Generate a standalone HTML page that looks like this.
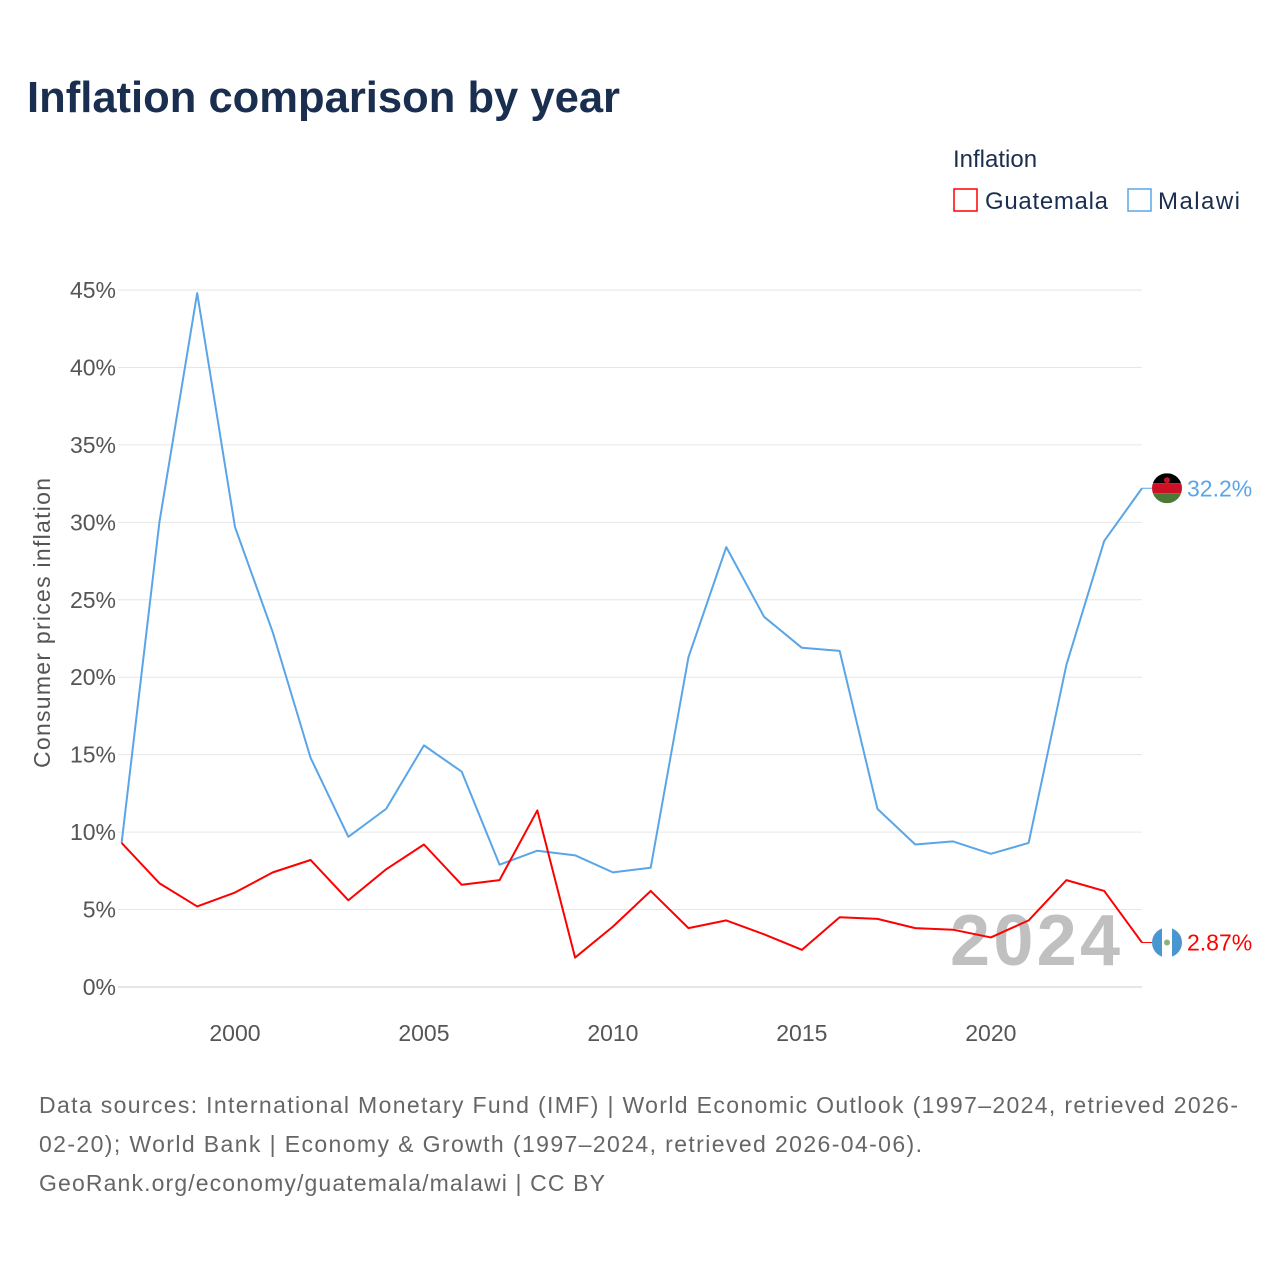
<!DOCTYPE html>
<html><head><meta charset="utf-8">
<style>
html,body{margin:0;padding:0;background:#fff;}
body{width:1280px;height:1280px;position:relative;font-family:"Liberation Sans",sans-serif;overflow:hidden;}
</style></head>
<body>
<svg id="chart" width="1280" height="1280" xmlns="http://www.w3.org/2000/svg" font-family="Liberation Sans, sans-serif">
<text x="27" y="112" font-size="44" font-weight="bold" fill="#1a2e50" textLength="593" lengthAdjust="spacingAndGlyphs">Inflation comparison by year</text>
<g>
<text x="953" y="167" font-size="24" fill="#1a2e50">Inflation</text>
<rect x="954" y="189" width="23" height="22" fill="none" stroke="#ff0000" stroke-width="1.5"/>
<text x="985" y="209" font-size="24" fill="#1a2e50" textLength="123">Guatemala</text>
<rect x="1128" y="189" width="23" height="22" fill="none" stroke="#5aa5e8" stroke-width="1.5"/>
<text x="1158" y="209" font-size="24" fill="#1a2e50" textLength="82">Malawi</text>
</g>
<g id="grid"></g>
<text x="1120" y="965" font-size="72" font-weight="bold" fill="#c0c0c0" text-anchor="end" textLength="170">2024</text>
<g id="series"></g>
<text transform="translate(50,623) rotate(-90)" font-size="23" fill="#555" text-anchor="middle" textLength="290">Consumer prices inflation</text>
<g font-size="23" fill="#666">
<text x="39" y="1113" textLength="1199">Data sources: International Monetary Fund (IMF) | World Economic Outlook (1997–2024, retrieved 2026-</text>
<text x="39" y="1152" textLength="883">02-20); World Bank | Economy &amp; Growth (1997–2024, retrieved 2026-04-06).</text>
<text x="39" y="1191" textLength="566">GeoRank.org/economy/guatemala/malawi | CC BY</text>
</g>
</svg>
<script>
const years=[1997,1998,1999,2000,2001,2002,2003,2004,2005,2006,2007,2008,2009,2010,2011,2012,2013,2014,2015,2016,2017,2018,2019,2020,2021,2022,2023,2024];
const malawi=[9.3,30.0,44.8,29.7,22.9,14.8,9.7,11.5,15.6,13.9,7.9,8.8,8.5,7.4,7.7,21.3,28.4,23.9,21.9,21.7,11.5,9.2,9.4,8.6,9.3,20.8,28.8,32.2];
const guatemala=[9.3,6.7,5.2,6.1,7.4,8.2,5.6,7.6,9.2,6.6,6.9,11.4,1.9,3.9,6.2,3.8,4.3,3.4,2.4,4.5,4.4,3.8,3.7,3.2,4.3,6.9,6.2,2.87];
const yTicks=[0,5,10,15,20,25,30,35,40,45];
const xTicks=[2000,2005,2010,2015,2020];
const NS="http://www.w3.org/2000/svg";
const x=v=>121.6+(v-1997)*(1142-121.6)/27;
const y=v=>987-v*(987-290)/45;
const grid=document.getElementById('grid'),ser=document.getElementById('series');
function mk(tag,attrs,parent){const e=document.createElementNS(NS,tag);for(const k in attrs)e.setAttribute(k,attrs[k]);parent.appendChild(e);return e;}
yTicks.forEach(t=>{
 const l=mk('line',{x1:118,x2:1142,y1:y(t),y2:y(t),stroke:t===0?'#ccc':'#e6e6e6','stroke-width':1},grid);
 
 
 const tx=mk('text',{x:116,y:y(t)+8,'font-size':23,fill:'#555','text-anchor':'end'},grid);
 tx.textContent=t+'%';
 
 
});
xTicks.forEach(t=>{
 const tx=mk('text',{x:x(t),y:1041,'font-size':23,fill:'#555','text-anchor':'middle'},grid);
 tx.textContent=t;
 
 
});
function line(vals,color,name){
 const p=mk('polyline',{points:vals.map((v,i)=>x(years[i])+','+y(v)).join(' '),fill:'none',stroke:color,'stroke-width':2,'stroke-linejoin':'round'},ser);
 
 
}
line(malawi,'#5aa5e8','malawi-line');
line(guatemala,'#ff0000','guatemala-line');
function endLabel(vals,color,name,flag){
 const v=vals[vals.length-1],yy=y(v);
 mk('line',{x1:1142,x2:1152,y1:yy,y2:yy,stroke:color,'stroke-width':1},ser);
 const g=mk('g',{},ser);
 
 
 flag(g,1167,yy);
 const t=mk('text',{x:1187,y:yy+8,'font-size':23,fill:color},ser);
 t.textContent=(v<10?v.toFixed(2):v.toFixed(1))+'%';
 
 
}
endLabel(malawi,'#5aa5e8','malawi',(g,cx,cy)=>{
 mk('clipPath',{id:'cm'},g);
 const c=document.createElementNS(NS,'circle');c.setAttribute('cx',cx);c.setAttribute('cy',cy);c.setAttribute('r',15);g.querySelector('#cm').appendChild(c);
 mk('rect',{x:cx-15,y:cy-15,width:30,height:10,fill:'#000','clip-path':'url(#cm)'},g);
 mk('rect',{x:cx-15,y:cy-5,width:30,height:10,fill:'#ce1126','clip-path':'url(#cm)'},g);
 mk('rect',{x:cx-15,y:cy+5,width:30,height:10,fill:'#4a7a35','clip-path':'url(#cm)'},g);
 mk('circle',{cx:cx,cy:cy-8,r:3,fill:'#ce1126'},g);
});
endLabel(guatemala,'#ff0000','guatemala',(g,cx,cy)=>{
 mk('clipPath',{id:'cg'},g);
 const c=document.createElementNS(NS,'circle');c.setAttribute('cx',cx);c.setAttribute('cy',cy);c.setAttribute('r',15);g.querySelector('#cg').appendChild(c);
 mk('rect',{x:cx-15,y:cy-15,width:10,height:30,fill:'#4997d0','clip-path':'url(#cg)'},g);
 mk('rect',{x:cx-5,y:cy-15,width:10,height:30,fill:'#fff','clip-path':'url(#cg)'},g);
 mk('rect',{x:cx+5,y:cy-15,width:10,height:30,fill:'#4997d0','clip-path':'url(#cg)'},g);
 mk('circle',{cx:cx,cy:cy,r:3,fill:'#8fb07a'},g);
});
</script>
</body></html>
